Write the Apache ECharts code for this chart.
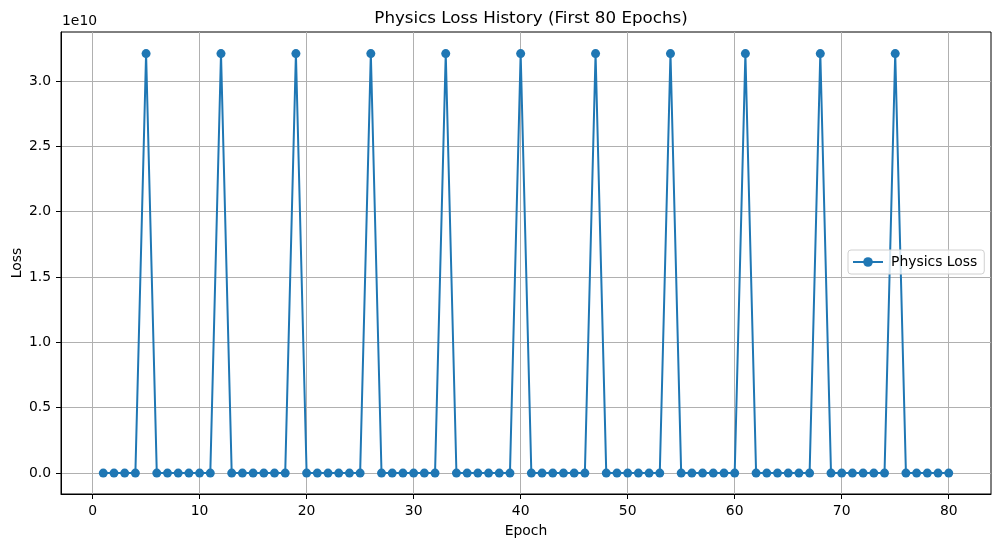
<!DOCTYPE html>
<html>
<head>
<meta charset="utf-8">
<script src="https://cdn.jsdelivr.net/npm/echarts@6/dist/echarts.min.js"></script>
<style>html,body{margin:0;padding:0;background:#fff;}#chart{width:1001px;height:547px;}</style>
</head>
<body>
<div id="chart"></div>
<script>
const epochs = [1,2,3,4,5,6,7,8,9,10,11,12,13,14,15,16,17,18,19,20,21,22,23,24,25,26,27,28,29,30,31,32,33,34,35,36,37,38,39,40,41,42,43,44,45,46,47,48,49,50,51,52,53,54,55,56,57,58,59,60,61,62,63,64,65,66,67,68,69,70,71,72,73,74,75,76,77,78,79,80];
const physicsLoss = [
  0,0,0,0,3.21e10,0,0,0,0,0,
  0,3.21e10,0,0,0,0,0,0,3.21e10,0,
  0,0,0,0,0,3.21e10,0,0,0,0,
  0,0,3.21e10,0,0,0,0,0,0,3.21e10,
  0,0,0,0,0,0,3.21e10,0,0,0,
  0,0,0,3.21e10,0,0,0,0,0,0,
  3.21e10,0,0,0,0,0,0,3.21e10,0,0,
  0,0,0,0,3.21e10,0,0,0,0,0
];
const xTicks = [0,10,20,30,40,50,60,70,80];
const yTicks = [0,0.5e10,1.0e10,1.5e10,2.0e10,2.5e10,3.0e10];

const font = 'DejaVu Sans';
const chart = echarts.init(document.getElementById('chart'));
const axisCommon = {
  axisLine: {show: true, onZero: false, lineStyle: {color: '#000', width: 1}},
  axisTick: {show: true, inside: false, length: 5, lineStyle: {color: '#000', width: 1}},
  splitLine: {show: true, lineStyle: {color: '#b0b0b0', width: 1}},
  nameTextStyle: {fontFamily: font, fontSize: 13.9, color: '#000'}
};
chart.setOption({
  animation: false,
  backgroundColor: '#fff',
  title: {
    text: 'Physics Loss History (First 80 Epochs)',
    left: 526, top: 5, textAlign: 'center',
    textStyle: {fontFamily: font, fontSize: 16.7, fontWeight: 'normal', color: '#000'}
  },
  grid: {left: 61, right: 10, top: 32, bottom: 53, containLabel: false, outerBoundsMode: 'none',
    show: true, borderColor: '#000', borderWidth: 1, backgroundColor: 'transparent'},
  legend: {
    data: ['Physics Loss'],
    left: 848, top: 250,
    padding: [5, 7, 5, 4],
    itemWidth: 30, itemHeight: 12, itemGap: 8,
    borderColor: '#d0d0d0', borderWidth: 1, borderRadius: 3,
    backgroundColor: 'rgba(255,255,255,0.8)',
    textStyle: {fontFamily: font, fontSize: 13.9, color: '#000', padding: [0,0,0,3]}
  },
  xAxis: Object.assign({}, axisCommon, {
    type: 'value', min: -2.95, max: 83.95,
    name: 'Epoch', nameLocation: 'middle', nameGap: 30,
    axisTick: Object.assign({}, axisCommon.axisTick, {customValues: xTicks}),
    axisLabel: {customValues: xTicks, fontFamily: font, fontSize: 13.9, color: '#000', margin: 10},
    splitLine: Object.assign({}, axisCommon.splitLine)
  }),
  yAxis: Object.assign({}, axisCommon, {
    type: 'value', min: -0.16e10, max: 3.375e10,
    axisTick: Object.assign({}, axisCommon.axisTick, {customValues: yTicks}),
    axisLabel: {customValues: yTicks, fontFamily: font, fontSize: 13.9, color: '#000', margin: 10,
      formatter: v => (v / 1e10).toFixed(1)}
  }),
  graphic: [{
    type: 'text', left: 62, top: 14,
    style: {text: '1e10', font: '13.9px "DejaVu Sans"', fill: '#000'}
  }, {
    type: 'text', x: 17, y: 263, rotation: Math.PI / 2,
    style: {text: 'Loss', font: '13.9px "DejaVu Sans"', fill: '#000', align: 'center', verticalAlign: 'middle'}
  }],
  series: [{
    name: 'Physics Loss', type: 'line',
    data: epochs.map((e, i) => [e, physicsLoss[i]]),
    symbol: 'circle', symbolSize: 9, showSymbol: true,
    itemStyle: {color: '#1f77b4'},
    lineStyle: {color: '#1f77b4', width: 2},
    emphasis: {disabled: true}
  }]
});
</script>
</body>
</html>
